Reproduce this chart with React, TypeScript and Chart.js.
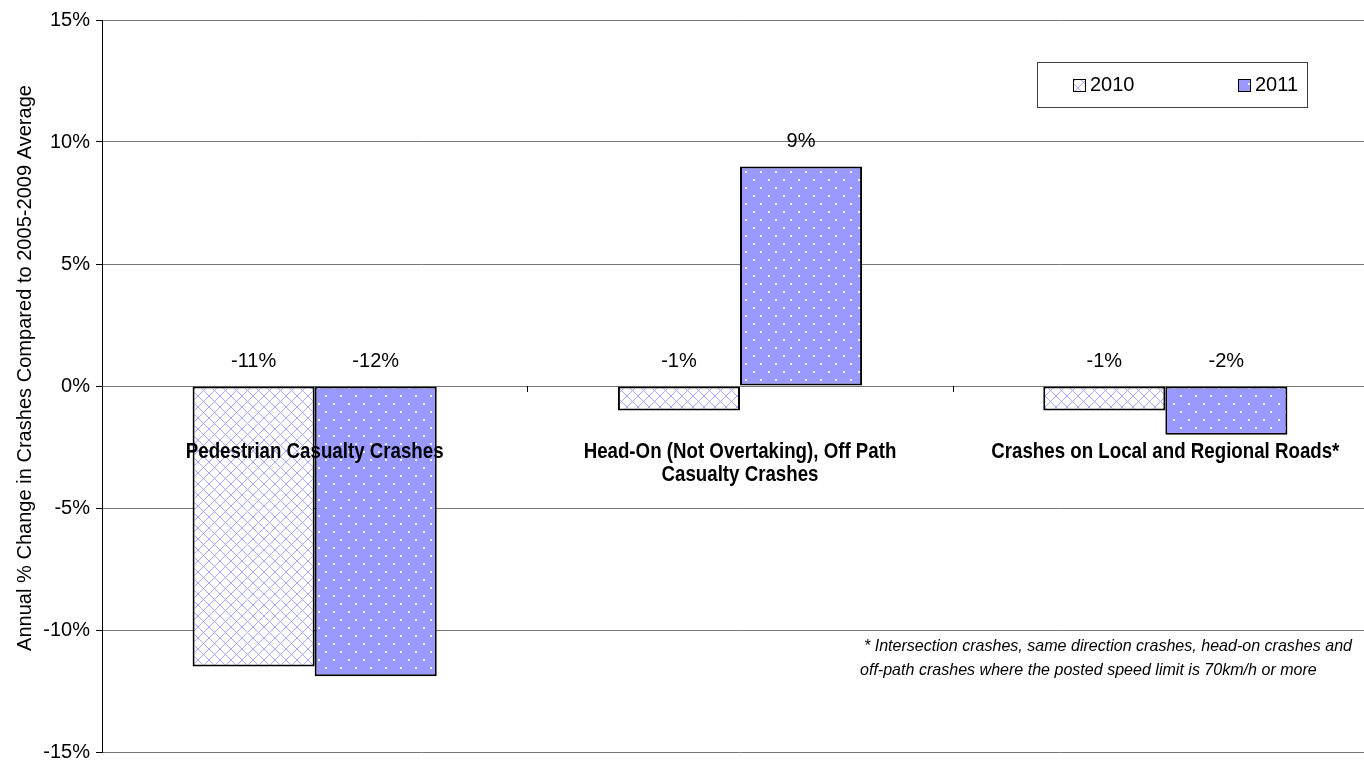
import React, { useEffect, useRef } from "react";
import { Chart, registerables } from "chart.js";

Chart.register(...registerables);

const categories: string[][] = [
  ["Pedestrian Casualty Crashes"],
  ["Head-On (Not Overtaking), Off Path", "Casualty Crashes"],
  ["Crashes on Local and Regional Roads*"],
];
const seriesNames = ["2010", "2011"];
const series2010 = [-11.5, -1.0, -1.0];
const series2011 = [-11.9, 9.0, -2.0];
const dataLabels2010 = ["-11%", "-1%", "-1%"];
const dataLabels2011 = ["-12%", "9%", "-2%"];
const yTicks = [-15, -10, -5, 0, 5, 10, 15];
const yTitle = "Annual % Change in Crashes Compared to 2005-2009 Average";
const footnoteLines = [
  "* Intersection crashes, same direction crashes, head-on crashes and",
  "off-path crashes where the posted speed limit is 70km/h or more",
];

const FONT = "'Liberation Sans', Arial, sans-serif";

function makeHatch(ctx: CanvasRenderingContext2D): CanvasPattern {
  const s = 11;
  const c = document.createElement("canvas");
  c.width = s;
  c.height = s;
  const g = c.getContext("2d")!;
  g.fillStyle = "#ffffff";
  g.fillRect(0, 0, s, s);
  g.strokeStyle = "#a8a8ff";
  g.lineWidth = 1;
  g.beginPath();
  g.moveTo(-1, -1);
  g.lineTo(s + 1, s + 1);
  g.moveTo(s + 1, -1);
  g.lineTo(-1, s + 1);
  g.stroke();
  return ctx.createPattern(c, "repeat")!;
}

function makeDots(ctx: CanvasRenderingContext2D): CanvasPattern {
  const w = 15;
  const h = 16;
  const c = document.createElement("canvas");
  c.width = w;
  c.height = h;
  const g = c.getContext("2d")!;
  g.fillStyle = "#9999ff";
  g.fillRect(0, 0, w, h);
  g.fillStyle = "rgba(255,255,255,0.85)";
  g.fillRect(3, 3, 2, 2);
  g.fillRect(10, 11, 2, 2);
  return ctx.createPattern(c, "repeat")!;
}

function stretchText(
  ctx: CanvasRenderingContext2D,
  text: string,
  x: number,
  y: number,
  font: string,
  sx: number,
  align: CanvasTextAlign
) {
  ctx.save();
  ctx.font = font;
  ctx.translate(x, y);
  ctx.scale(sx, 1);
  ctx.textAlign = align;
  ctx.textBaseline = "middle";
  ctx.fillText(text, 0, 0);
  ctx.restore();
}

export default function App() {
  const ref = useRef<HTMLCanvasElement | null>(null);

  useEffect(() => {
    const canvas = ref.current!;
    const ctx = canvas.getContext("2d")!;
    const hatch = makeHatch(ctx);
    const dots = makeDots(ctx);
    const fills = [hatch, dots];
    const labelSets = [dataLabels2010, dataLabels2011];

    const overlay = {
      id: "overlay",
      afterDraw(chart: any) {
        const c: CanvasRenderingContext2D = chart.ctx;
        const xs = chart.scales.x;
        const ys = chart.scales.y;
        const y0 = ys.getPixelForValue(0);
        c.save();
        c.fillStyle = "#000";

        // category tick marks on the zero line
        c.strokeStyle = "#000";
        c.lineWidth = 1;
        for (let j = 0; j < categories.length - 1; j++) {
          const bx = Math.round((xs.getPixelForValue(j) + xs.getPixelForValue(j + 1)) / 2) + 0.5;
          c.beginPath();
          c.moveTo(bx, y0);
          c.lineTo(bx, y0 + 6);
          c.stroke();
        }

        // data labels
        chart.data.datasets.forEach((ds: any, i: number) => {
          const meta = chart.getDatasetMeta(i);
          meta.data.forEach((el: any, j: number) => {
            const top = Math.min(el.y, el.base);
            stretchText(c, labelSets[i][j], el.x, top - 25, `20px ${FONT}`, 1, "center");
          });
        });

        // category labels
        categories.forEach((lines, j) => {
          const cx = xs.getPixelForValue(j);
          lines.forEach((ln, k) => {
            stretchText(c, ln, cx, y0 + 66 + k * 23, `bold 22px ${FONT}`, 0.85, "center");
          });
        });

        // y-axis title
        c.save();
        c.font = `21px ${FONT}`;
        const tw = c.measureText(yTitle).width;
        c.translate(25, 368);
        c.rotate(-Math.PI / 2);
        c.scale(566 / tw, 1);
        c.textAlign = "center";
        c.textBaseline = "middle";
        c.fillText(yTitle, 0, 0);
        c.restore();

        // footnote
        c.save();
        c.font = `italic 17px ${FONT}`;
        const fw = c.measureText(footnoteLines[0]).width;
        const fsx = 488 / fw;
        c.restore();
        stretchText(c, footnoteLines[0], 864, 646, `italic 17px ${FONT}`, fsx, "left");
        stretchText(c, footnoteLines[1], 860, 670, `italic 17px ${FONT}`, fsx, "left");

        // legend
        c.fillStyle = "#ffffff";
        c.fillRect(1037, 62, 270, 45);
        c.strokeStyle = "#404040";
        c.lineWidth = 1;
        c.strokeRect(1037.5, 62.5, 270, 45);
        const lx = [1073, 1238];
        seriesNames.forEach((nm, i) => {
          c.fillStyle = fills[i];
          c.fillRect(lx[i], 79, 13, 13);
          c.strokeStyle = "#000";
          c.strokeRect(lx[i] + 0.5, 79.5, 12, 12);
          c.fillStyle = "#000";
          stretchText(c, nm, lx[i] + 17, 85, `20px ${FONT}`, 1, "left");
        });
        c.restore();
      },
    };

    const chart = new Chart(canvas, {
      type: "bar",
      data: {
        labels: categories.map((l) => l.join(" ")),
        datasets: [
          {
            label: seriesNames[0],
            data: series2010,
            backgroundColor: hatch as any,
            borderColor: "#000",
            borderWidth: 2,
            borderSkipped: false,
          },
          {
            label: seriesNames[1],
            data: series2011,
            backgroundColor: dots as any,
            borderColor: "#000",
            borderWidth: 2,
            borderSkipped: false,
          },
        ],
      },
      options: {
        responsive: false,
        animation: false,
        devicePixelRatio: 1,
        layout: { padding: { top: 20, right: 14, left: 0, bottom: 0 } },
        datasets: { bar: { categoryPercentage: 0.574, barPercentage: 1 } },
        plugins: { legend: { display: false }, tooltip: { enabled: false } },
        scales: {
          x: {
            offset: true,
            grid: { display: false },
            border: { display: false },
            ticks: { display: false },
            afterFit(s: any) {
              s.height = 9;
              s.paddingLeft = 0;
              s.paddingRight = 0;
            },
          },
          y: {
            min: yTicks[0],
            max: yTicks[yTicks.length - 1],
            afterBuildTicks(s: any) {
              s.ticks = yTicks.map((v) => ({ value: v }));
            },
            ticks: {
              callback: (v: any) => v + "%",
              font: { family: FONT, size: 20 },
              color: "#000",
              padding: 6,
            },
            grid: { color: "#777777", tickColor: "#000", tickLength: 6, lineWidth: 1 },
            border: { color: "#000", width: 1 },
            afterFit(s: any) {
              s.width = 102;
              s.paddingTop = 0;
              s.paddingBottom = 0;
            },
          },
        },
      },
      plugins: [overlay],
    } as any);

    return () => chart.destroy();
  }, []);

  return (
    <div
      style={{
        position: "fixed",
        left: 0,
        top: 0,
        width: 1364,
        height: 761,
        overflow: "hidden",
        background: "#fff",
      }}
    >
      <canvas ref={ref} width={1392} height={761} style={{ display: "block" }} />
    </div>
  );
}
